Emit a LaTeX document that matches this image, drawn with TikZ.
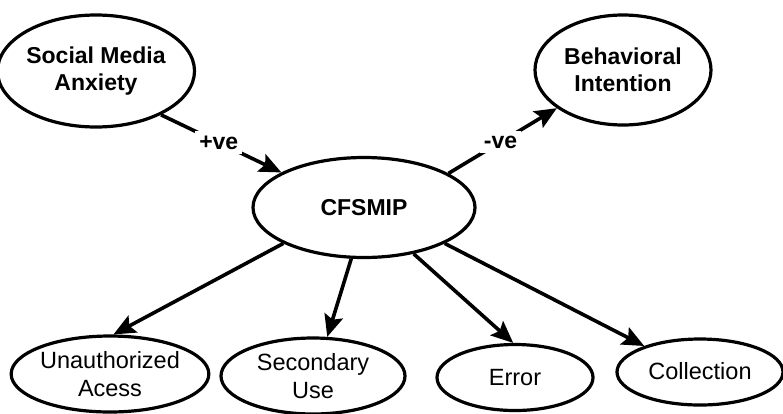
\documentclass[tikz,border=0pt]{standalone}
\usepackage{fontspec}
\setmainfont{Liberation Sans}
\usetikzlibrary{shapes.geometric,arrows.meta}
\begin{document}
\begin{tikzpicture}[x=1pt,y=-1pt,
  ell/.style={draw, ellipse, line width=3.2pt, inner sep=0pt, align=center,
    font=\fontsize{23.5}{28}\selectfont},
  bold/.style={font=\fontsize{23}{27.5}\selectfont\bfseries},
  link/.style={line width=3.6pt, -{Stealth[length=22pt,width=19pt,inset=4pt]}},
  tag/.style={fill=white, inner xsep=4pt, inner ysep=5pt, font=\fontsize{23}{26}\selectfont\bfseries}]
\useasboundingbox (0,0) rectangle (783,413);

% concepts
\node[ell, bold, minimum width=172pt, minimum height=112pt] (sma) at (96,71) {Social Media\\Anxiety};
\node[ell, bold, minimum width=176pt, minimum height=110pt] (bi) at (623,70) {Behavioral\\Intention};
\node[ell, bold, minimum width=222pt, minimum height=100pt] (cf) at (364,207.5) {CFSMIP};

% dimensions
\node[ell, minimum width=190pt, minimum height=76pt] (ua) at (110,374) {Unauthorized\\Acess};
\node[ell, minimum width=184pt, minimum height=76pt] (su) at (313,376) {Secondary\\Use};
\node[ell, minimum width=156pt, minimum height=66pt] (er) at (515,377.5) {Error};
\node[ell, minimum width=166pt, minimum height=66pt] (co) at (700,372) {\raisebox{3pt}{Collection}};

% effects
\draw[link] (sma.326) -- node[tag, pos=0.48] {+ve} (cf.157);
\draw[link] (cf.22) -- node[tag, pos=0.48] {-ve} (bi.210);

% dimension arrows
\draw[link] (cf.204) -- (ua.85);
\draw[link] (cf.256) -- (su.70);
\draw[link] (cf.317) -- (er.93);
\draw[link] (cf.336) -- (co.155);
\end{tikzpicture}
\end{document}
